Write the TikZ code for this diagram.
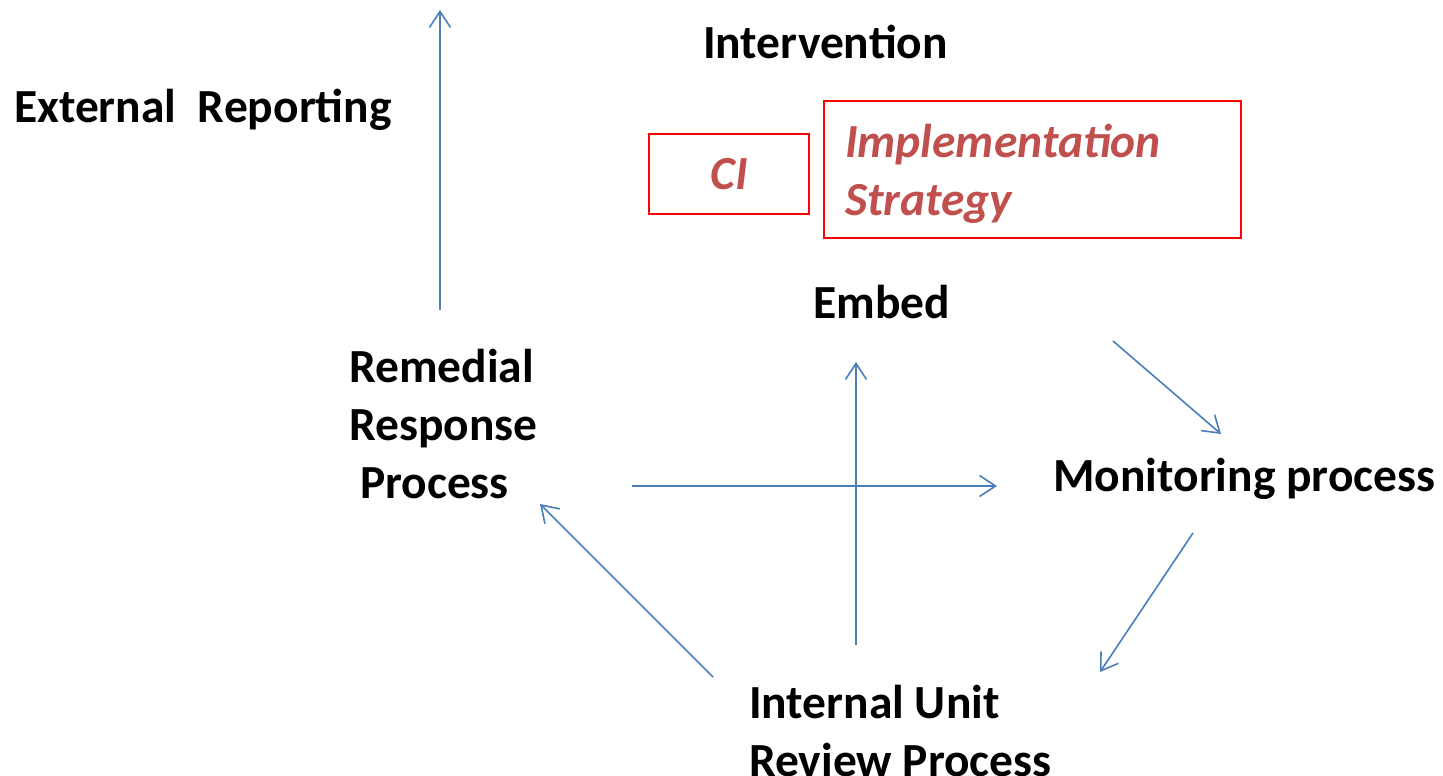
\documentclass[tikz,border=0pt]{standalone}
\usepackage{fontspec}
\setmainfont{Carlito}
\usepackage{tikz}
\usetikzlibrary{arrows.meta}
\usepackage{xcolor}
\definecolor{flowblue}{HTML}{4A7EBB}
\definecolor{boxred}{HTML}{FF0000}
\definecolor{txtred}{HTML}{C0504D}

\begin{document}
\begin{tikzpicture}[x=1pt,y=-1pt,>={Straight Barb[length=16pt,width=21pt]},
  every node/.style={font=\fontsize{47.5}{58}\selectfont\bfseries,inner sep=0pt},
  flow/.style={->,flowblue,line width=1.6pt},
  redbox/.style={draw=boxred,line width=1.6pt,text=txtred,font=\fontsize{47.5}{58}\selectfont\bfseries\itshape}]
\useasboundingbox (0,0) rectangle (1443,776);
\node[anchor=base west] (ext) at (14,122){External\ \ Reporting};
\node[anchor=base west] (intv) at (703,59){Intervention};
\node[redbox,minimum width=160pt,minimum height=80pt] (ci) at (729,174){CI};
\node[redbox,minimum width=417pt,minimum height=137pt,text width=375pt,align=left,inner xsep=21pt,text depth=57pt] (impl) at (1032.5,169.5){Implementation\\Strategy};
\node[anchor=base west] (embed) at (813,318){Embed};
\node[anchor=base west,align=left] (remedial) at (349,498){Remedial\\Response\\\hspace*{0.23em}Process};
\node[anchor=base west] (monitor) at (1053,491){Monitoring process};
\node[anchor=base west,align=left] (internal) at (749,776){Internal Unit\\Review Process};
% arrow ends
\coordinate (extA) at (440,310); \coordinate (extB) at (440,10);
\coordinate (horA) at (632,486); \coordinate (horB) at (997,486);
\coordinate (verA) at (856,645); \coordinate (verB) at (856,362);
\coordinate (emA) at (1113,341); \coordinate (moB) at (1221,434);
\coordinate (moA) at (1193,533); \coordinate (inB) at (1100,672);
\coordinate (inA) at (713,677); \coordinate (reB) at (540,504);
\draw[flow] (extA)--(extB);
\draw[flow] (horA)--(horB);
\draw[flow] (verA)--(verB);
\draw[flow] (emA)--(moB);
\draw[flow] (moA)--(inB);
\draw[flow] (inA)--(reB);
\end{tikzpicture}
\end{document}
